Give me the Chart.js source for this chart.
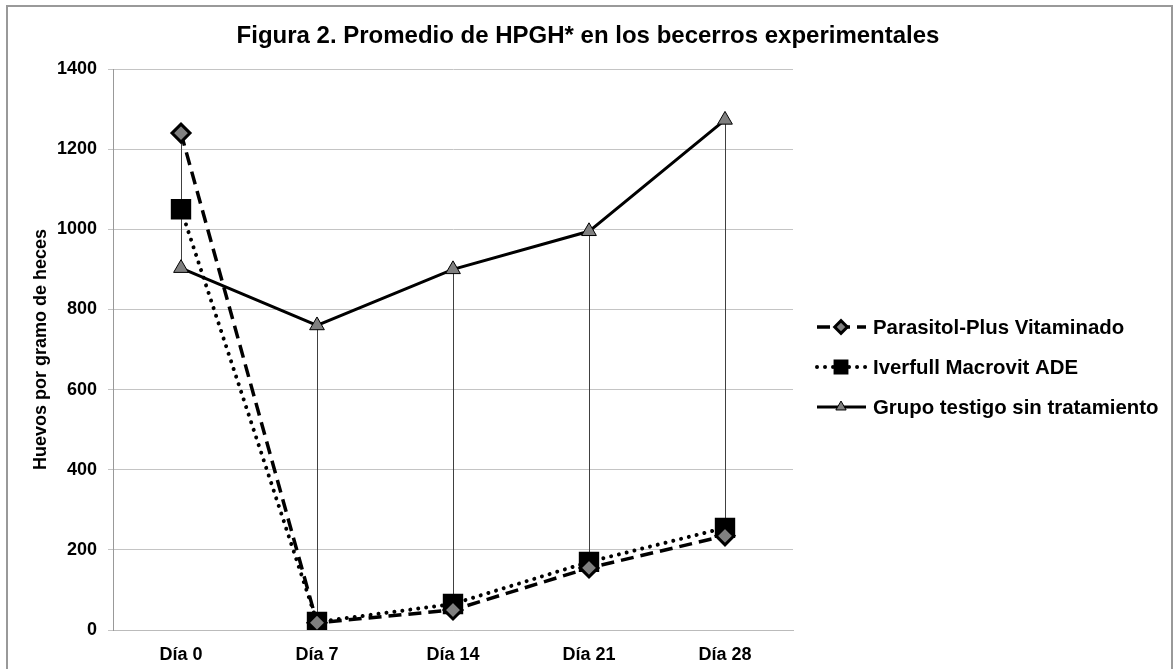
<!DOCTYPE html>
<html>
<head>
<meta charset="utf-8">
<script src="https://cdn.jsdelivr.net/npm/chart.js@4"></script>
<style>
  body { margin: 0; background: #fff; }
  #wrap { width: 1173px; height: 669px; position: relative; }
</style>
</head>
<body>
<div id="wrap"><canvas id="hpghChart"></canvas></div>
<script>
const dias = ['Día 0', 'Día 7', 'Día 14', 'Día 21', 'Día 28'];
const parasitol = [1240, 18, 50, 155, 235];
const iverfull = [1050, 20, 65, 170, 255];
const testigo = [903, 760, 900, 995, 1273];
const yTicks = [0, 200, 400, 600, 800, 1000, 1200, 1400];

const FONT = '"Liberation Sans", Arial, sans-serif';

// lineas verticales entre max y min de cada dia (high-low lines de Excel)
const highLow = {
    id: 'highLow',
    beforeDatasetsDraw(chart) {
        const ctx = chart.ctx;
        const x = chart.scales.x, y = chart.scales.y;
        ctx.save();
        ctx.strokeStyle = '#404040';
        ctx.lineWidth = 1;
        dias.forEach((d, i) => {
            const vals = chart.data.datasets.map(ds => ds.data[i]);
            const px = Math.round(x.getPixelForValue(i)) + 0.5;
            ctx.beginPath();
            ctx.moveTo(px, y.getPixelForValue(Math.max(...vals)));
            ctx.lineTo(px, y.getPixelForValue(Math.min(...vals)));
            ctx.stroke();
        });
        ctx.restore();
    }
};

// titulo, marco y leyenda dibujados a mano
const extras = {
    id: 'extras',
    afterDraw(chart) {
        const ctx = chart.ctx;
        ctx.save();
        ctx.strokeStyle = '#999';
        ctx.lineWidth = 2;
        ctx.strokeRect(7, 6, 1165, 720);

        ctx.fillStyle = '#000';
        ctx.font = 'bold 24px ' + FONT;
        ctx.textAlign = 'center';
        ctx.textBaseline = 'middle';
        ctx.fillText('Figura 2. Promedio de HPGH* en los becerros experimentales', 588, 36);

        const x0 = 817, x1 = 866, xm = 841;
        ctx.font = 'bold 20.4px ' + FONT;
        ctx.textAlign = 'left';
        chart.data.datasets.forEach((ds, i) => {
            const yy = 327 + i * 40;
            ctx.save();
            ctx.strokeStyle = ds.borderColor;
            ctx.lineWidth = ds.borderWidth;
            ctx.lineCap = ds.borderCapStyle || 'butt';
            ctx.setLineDash(ds.borderDash || []);
            ctx.beginPath();
            ctx.moveTo(x0, yy);
            ctx.lineTo(x1, yy);
            ctx.stroke();
            ctx.restore();
            ctx.save();
            ctx.fillStyle = ds.pointBackgroundColor;
            ctx.strokeStyle = ds.pointBorderColor;
            ctx.lineWidth = ds.pointBorderWidth;
            Chart.helpers.drawPoint(ctx, {pointStyle: ds.pointStyle, rotation: 0, borderWidth: ds.pointBorderWidth, radius: ds.pointRadius * 0.7}, xm, yy);
            ctx.restore();
            ctx.fillStyle = '#000';
            ctx.fillText(ds.label, 873, yy + 1);
        });
        ctx.restore();
    }
};

const ctx = document.getElementById('hpghChart').getContext('2d');
const hpghChart = new Chart(ctx, {
    type: 'line',
    data: {
        labels: dias,
        datasets: [
            {
                label: 'Parasitol-Plus Vitaminado',
                data: parasitol,
                borderColor: '#000',
                borderWidth: 3.5,
                borderDash: [13, 7],
                pointStyle: 'rectRot',
                pointRadius: 9,
                pointBackgroundColor: '#808080',
                pointBorderColor: '#000',
                pointBorderWidth: 3
            },
            {
                label: 'Iverfull Macrovit ADE',
                data: iverfull,
                borderColor: '#000',
                borderWidth: 4,
                borderDash: [0.01, 8],
                borderCapStyle: 'round',
                pointStyle: 'rect',
                pointRadius: 13,
                pointBackgroundColor: '#000',
                pointBorderColor: '#000',
                pointBorderWidth: 2
            },
            {
                label: 'Grupo testigo sin tratamiento',
                data: testigo,
                borderColor: '#000',
                borderWidth: 3,
                pointStyle: 'triangle',
                pointRadius: 8.5,
                pointBackgroundColor: '#808080',
                pointBorderColor: '#000',
                pointBorderWidth: 1
            }
        ]
    },
    options: {
        responsive: true,
        maintainAspectRatio: false,
        animation: false,
        layout: { padding: { top: 69, right: 380, left: 0, bottom: 0 } },
        plugins: {
            legend: { display: false },
            title: { display: false },
            tooltip: { enabled: false }
        },
        scales: {
            x: {
                offset: true,
                grid: { display: false },
                border: { display: true, color: '#bbb' },
                ticks: { color: '#000', padding: 6, font: { family: FONT, size: 18, weight: 'bold' } },
                afterFit: s => { s.height = 39; }
            },
            y: {
                min: 0,
                max: 1400,
                afterBuildTicks: s => { s.ticks = yTicks.map(v => ({ value: v })); },
                grid: { color: '#c4c4c4', tickLength: 5 },
                border: { display: true, color: '#999' },
                ticks: {
                    color: '#000',
                    padding: 11,
                    font: { family: FONT, size: 18, weight: 'bold' },
                    callback: v => String(v)
                },
                title: {
                    display: true,
                    text: 'Huevos por gramo de heces',
                    color: '#000',
                    padding: { top: 30, bottom: 0 },
                    font: { family: FONT, size: 18, weight: 'bold' }
                },
                afterFit: s => { s.width = 113; }
            }
        }
    },
    plugins: [highLow, extras]
});
</script>
</body>
</html>
